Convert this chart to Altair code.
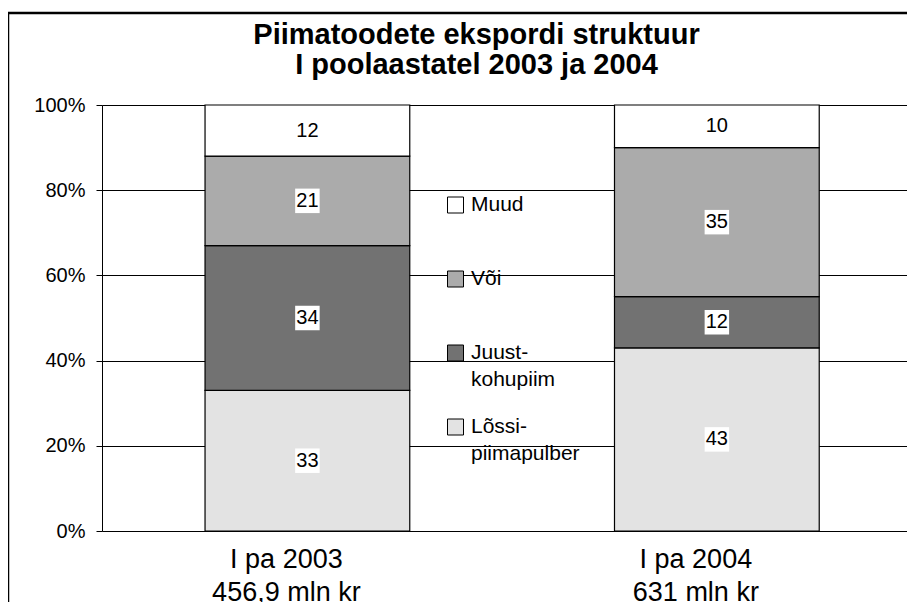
import altair as alt
import pandas as pd

FONT = "Liberation Sans"

title_lines = ["Piimatoodete ekspordi struktuur", "I poolaastatel 2003 ja 2004"]
periods = ["I pa 2003\n456,9 mln kr", "I pa 2004\n631 mln kr"]
# stacked from the bottom up
categories = ["Lõssi-piimapulber", "Juust-kohupiim", "Või", "Muud"]
share_2003 = [33, 34, 21, 12]
share_2004 = [43, 12, 35, 10]
y_ticks = [0, 20, 40, 60, 80, 100]

legend_order = ["Muud", "Või", "Juust-kohupiim", "Lõssi-piimapulber"]
fills = ["#ffffff", "#ababab", "#727272", "#e3e3e3"]

rows = []
for p, vals in zip(periods, [share_2003, share_2004]):
    for i, (c, v) in enumerate(zip(categories, vals)):
        rows.append({"period": p, "category": c, "value": v, "order": i})
df = pd.DataFrame(rows)

x_axis = alt.Axis(
    title=None, labelAngle=0, ticks=False, domain=False,
    labelExpr="split(datum.label, '\\n')",
    labelFont=FONT, labelFontSize=27, labelLineHeight=33,
    labelColor="black", labelPadding=15, labelOffset=-21,
)
x_scale = alt.Scale(paddingInner=0.5, paddingOuter=0.233, align=0.54)
y_axis = alt.Axis(
    title=None, values=y_ticks, labelExpr="datum.value + '%'",
    labelFont=FONT, labelFontSize=20, labelColor="black",
    labelPadding=11, tickSize=6, tickColor="black", domainColor="black",
    gridColor="black", gridWidth=1, tickWidth=1, domainWidth=1,
)
y_scale = alt.Scale(domain=[0, 100])

base = alt.Chart(df)

bars = base.mark_bar(stroke="black", strokeWidth=1.2).encode(
    x=alt.X("period:N", sort=periods, scale=x_scale, axis=x_axis),
    y=alt.Y("value:Q", stack="zero", scale=y_scale, axis=y_axis),
    color=alt.Color(
        "category:N",
        scale=alt.Scale(domain=legend_order, range=fills),
        legend=alt.Legend(
            title=None, orient="none", legendX=343, legendY=63,
            symbolType="square", symbolSize=256, symbolStrokeColor="black",
            symbolStrokeWidth=1, labelFont=FONT, labelFontSize=21,
            labelColor="black", labelLimit=0, labelOffset=5, padding=0,
            clipHeight=74, rowPadding=0, labelBaseline="middle",
            labelExpr="indexof(datum.label, '-') > 0 ? [slice(datum.label, 0, indexof(datum.label, '-') + 1), slice(datum.label, indexof(datum.label, '-') + 1)] : datum.label",
        ),
    ),
    order=alt.Order("order:Q", sort="ascending"),
)

lab = base.transform_stack(
    stack="value", groupby=["period"], sort=[alt.SortField("order")], as_=["y0", "y1"]
).transform_calculate(mid="(datum.y0 + datum.y1) / 2")

boxes = lab.mark_square(size=600, color="white", opacity=1).encode(
    x=alt.X("period:N", sort=periods, scale=x_scale, axis=x_axis),
    y=alt.Y("mid:Q", scale=y_scale, axis=y_axis),
)
texts = lab.mark_text(font=FONT, fontSize=20, color="black", baseline="middle").encode(
    x=alt.X("period:N", sort=periods, scale=x_scale, axis=x_axis),
    y=alt.Y("mid:Q", scale=y_scale, axis=y_axis),
    text="value:Q",
)

# outer chart border (decoration): left and top edges
frame_src = alt.Chart(pd.DataFrame({"f": [0]}))
frame_left = frame_src.mark_rule(color="black", strokeWidth=1.5).encode(
    x=alt.value(-93.5), y=alt.value(-92), y2=alt.value(800)
)
frame_top = frame_src.mark_rule(color="black", strokeWidth=2.5).encode(
    x=alt.value(-94), x2=alt.value(1000), y=alt.value(-92), y2=alt.value(-92)
)

chart = alt.layer(bars, boxes, texts, frame_left, frame_top).properties(
    width=805, height=426,
    title=alt.TitleParams(
        text=title_lines, font=FONT, fontSize=29, fontWeight="bold", color="black",
        anchor="middle", frame="group", dx=-28, lineHeight=30, offset=-91,
        baseline="alphabetic",
    ),
    autosize=alt.AutoSizeParams(type="none"),
    padding={"left": 94, "top": 97, "right": 0, "bottom": 71},
).configure_view(strokeWidth=0).configure(
    background="white", style={"guide-label": {"lineHeight": 27}}
)

chart.save("out.html", embed_options={"renderer": "svg", "actions": False})
